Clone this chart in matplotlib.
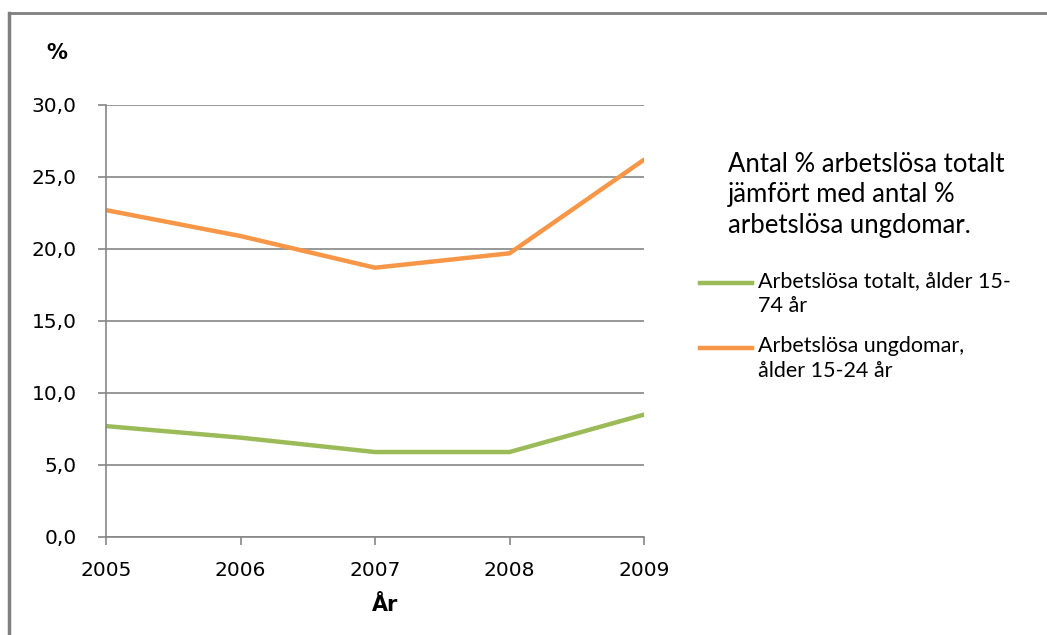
import matplotlib.pyplot as plt
from matplotlib.lines import Line2D

years = [2005, 2006, 2007, 2008, 2009]
total = [7.7, 6.9, 5.9, 5.9, 8.5]
youth = [22.7, 20.9, 18.7, 19.7, 26.2]
yticks = [0, 5, 10, 15, 20, 25, 30]
ytick_labels = ["0,0", "5,0", "10,0", "15,0", "20,0", "25,0", "30,0"]

label_total = "Arbetslösa totalt, ålder 15-\n74 år"
label_youth = "Arbetslösa ungdomar,\nålder 15-24 år"
heading = "Antal % arbetslösa totalt\njämfört med antal %\narbetslösa ungdomar."

green = "#9BBB59"
orange = "#F79646"
grid_col = "#868686"

W, H = 1047, 635
fig = plt.figure(figsize=(W / 100, H / 100), dpi=100)
ax = fig.add_axes([106 / W, 1 - 537 / H, (644 - 106) / W, (537 - 105) / H])

series = [(total, green, label_total), (youth, orange, label_youth)]
for vals, col, lab in series:
    ax.plot(years, vals, color=col, lw=3.2, label=lab, solid_capstyle="round")

ax.set_xlim(2005, 2009)
ax.set_ylim(0, 30)
ax.set_xticks(years)
ax.set_xticklabels([str(y) for y in years], fontsize=14.5, family="DejaVu Sans")
ax.set_yticks(yticks)
ax.set_yticklabels(ytick_labels, fontsize=14.5, family="DejaVu Sans")
ax.grid(axis="y", color=grid_col, lw=1.2)
ax.set_axisbelow(True)
for s in ["top", "right"]:
    ax.spines[s].set_visible(False)
for s in ["left", "bottom"]:
    ax.spines[s].set_color(grid_col)
    ax.spines[s].set_linewidth(1.2)
ax.tick_params(axis="both", color=grid_col, width=1.2, length=6, direction="out")
ax.tick_params(axis="y", pad=15)
ax.tick_params(axis="x", pad=11)

# axis titles
fig.text(57 / W, 1 - 53 / H, "%", fontsize=15, fontweight="bold", family="DejaVu Sans",
         ha="center", va="center")
fig.text(385 / W, 1 - 605 / H, "År", fontsize=15, fontweight="bold", family="DejaVu Sans",
         ha="center", va="center")

# heading beside the chart
fig.text(728 / W, 1 - 152 / H, heading, fontsize=18.5, family="Lato", ha="left", va="top",
         linespacing=1.27)

# legend entries: handle level with the first text line
handles = ax.get_lines()
row_y = [283, 348]
for ln, yy in zip(handles, row_y):
    fy = 1 - yy / H
    fig.add_artist(Line2D([700 / W, 752 / W], [fy, fy], color=ln.get_color(), lw=3.2,
                          transform=fig.transFigure))
    fig.text(758 / W, fy + 12 / H, ln.get_label(), fontsize=15.5, family="Lato",
             ha="left", va="top", linespacing=1.3)

# outer frame lines
fig.add_artist(Line2D([9 / W, 9 / W], [0, 1 - 13 / H], color="#7f7f7f", lw=2.5,
                      transform=fig.transFigure))
fig.add_artist(Line2D([9 / W, 1], [1 - 13 / H, 1 - 13 / H], color="#7f7f7f", lw=2,
                      transform=fig.transFigure))

fig.savefig("out.png", dpi=100)
